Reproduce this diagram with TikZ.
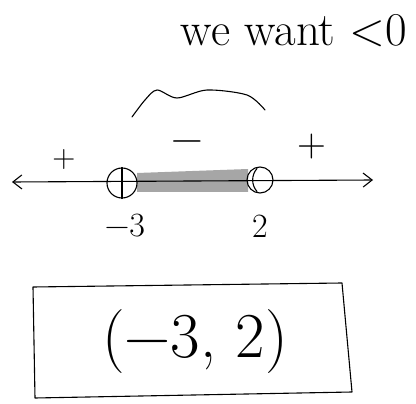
\documentclass[tikz,border=0pt]{standalone}
\usetikzlibrary{arrows.meta, calc}

\begin{document}
\begin{tikzpicture}[x=1pt, y=-1pt, line width=1.1pt, line cap=round, line join=round,
	txt/.style={inner sep=0pt},
	pt/.style={circle, draw, inner sep=0pt, minimum size=#1}]
	\useasboundingbox (0,0) rectangle (416,404);
	\def\sz#1{\fontsize{#1}{#1}\selectfont}
	% heading
	\node[txt, anchor=base] (want) at (294,46) {\sz{47}we want <0};
	\draw plot[smooth] coordinates {(132,117) (145,100) (157,90) (177,98) (207,90) (247,95) (265,110)};
	% signs above the line
	\node[txt] (lpos) at (64,160) {\sz{32}+};
	\node[txt] (neg) at (187,147) {\sz{44}−};
	\node[txt] (rpos) at (312,147) {\sz{40}+};
	% number line
	\coordinate (lend) at (12,182);
	\coordinate (rend) at (373,180);
	\fill[gray!70] (137,173) -- (248,169) -- (248,192) -- (137,192) -- cycle;
	\draw[{Straight Barb[length=9pt,width=14pt]}-{Straight Barb[length=9pt,width=14pt]}] (lend) -- (rend);
	\node[pt=30pt] (pa) at (122,183) {};
	\node[pt=26pt] (pb) at (260,180) {};
	\draw (pa.north) -- (pa.south);
	\draw ($(pb.north)+(-3,2)$) to[bend right=40] ($(pb.south)+(-3,-2)$);
	\node[txt] (la) at (125,226) {\sz{34}−3};
	\node[txt] (lb) at (260,226) {\sz{34}2};
	% answer
	\draw (33,287) -- (342,283) -- (352,392) -- (35,398) -- cycle;
	\node[txt] (ans) at (195,342) {\sz{64}(−3, 2)};
\end{tikzpicture}
\end{document}
